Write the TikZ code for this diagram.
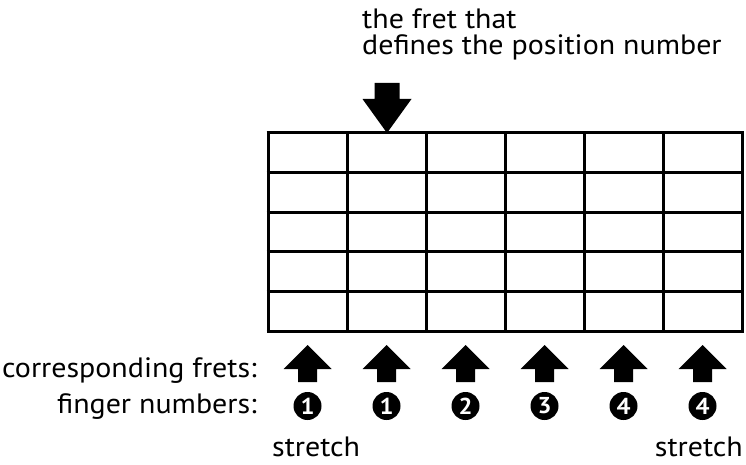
\documentclass[tikz,border=0pt]{standalone}
\usepackage{fontspec}
\setmainfont{PT Sans}[FakeStretch=1.07]
\begin{document}
\begin{tikzpicture}[x=1pt,y=-1pt,
  gridline/.style={line width=3pt},
  lbl/.style={inner sep=0pt,font=\fontsize{28}{28}\selectfont},
  numtxt/.style={inner sep=0pt,text=white,font=\fontsize{23}{23}\selectfont\bfseries},
  uparr/.pic={\fill (0,-12) -- (24,12) -- (9.5,12) -- (9.5,25) -- (-9.5,25) -- (-9.5,12) -- (-24,12) -- cycle;},
  downarr/.pic={\fill (0,0) -- (-24.5,-34) -- (-12.5,-34) -- (-12.5,-50) -- (12.5,-50) -- (12.5,-34) -- (24.5,-34) -- cycle;}
]
\useasboundingbox (0,0) rectangle (746,465);
% grid
\foreach \i in {0,...,6} \draw[gridline] (268+79*\i,133) -- (268+79*\i,331);
\foreach \j in {0,...,5} \draw[gridline] (266.5,133+39.6*\j) -- (743.5,133+39.6*\j);
% top arrow
\pic at (387,133) {downarr};
\node[lbl,anchor=base west] (t1) at (362,29) {the fret that};
\node[lbl,anchor=base west] (t2) at (362,55) {defines the position number};
% bottom arrows and numbers
\foreach \i/\n in {0/1,1/1,2/2,3/3,4/4,5/4} {
  \pic at (307.5+79*\i,357) {uparr};
  \fill (307.5+79*\i,406) circle[radius=14pt];
  \node[numtxt] (n\i) at (307.5+79*\i,406) {\n};
}
\node[lbl,anchor=base east] (cf) at (257,377) {corresponding frets:};
\node[lbl,anchor=base east] (fn) at (257,413) {finger numbers:};
\node[lbl,anchor=base west] (s1) at (272,456) {stretch};
\node[lbl,anchor=base east] (s2) at (743,456) {stretch};
\end{tikzpicture}
\end{document}
